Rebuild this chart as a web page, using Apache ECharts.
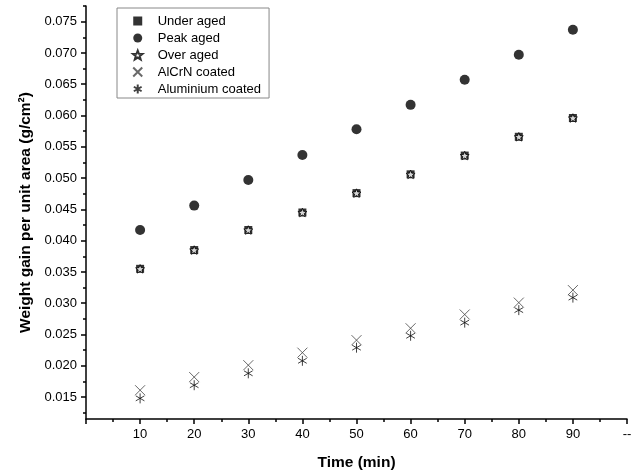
<!DOCTYPE html>
<html>
<head>
<meta charset="utf-8">
<script src="https://cdn.jsdelivr.net/npm/echarts@6/dist/echarts.min.js"></script>
<style>
  html, body { margin: 0; padding: 0; background: #fff; }
  #chart { width: 644px; height: 476px; }
</style>
</head>
<body>
<div id="chart"></div>
<script>
// exposure time (min)
const times = [10, 20, 30, 40, 50, 60, 70, 80, 90];

// weight gain per unit area (g/cm2)
const underAged       = [0.0355, 0.0385, 0.0417, 0.0445, 0.0476, 0.0506, 0.0536, 0.0566, 0.0596];
const peakAged        = [0.0417, 0.0456, 0.0497, 0.0537, 0.0578, 0.0617, 0.0657, 0.0697, 0.0737];
const overAged        = [0.0355, 0.0385, 0.0417, 0.0445, 0.0476, 0.0506, 0.0536, 0.0566, 0.0596];
const alcrnCoated     = [0.0161, 0.0182, 0.0201, 0.0221, 0.0241, 0.0260, 0.0282, 0.0301, 0.0321];
const aluminiumCoated = [0.0148, 0.0169, 0.0188, 0.0208, 0.0229, 0.0248, 0.0269, 0.0289, 0.0309];

// tick labels
const yMajorTicks = [0.015, 0.020, 0.025, 0.030, 0.035, 0.040, 0.045, 0.050, 0.055, 0.060, 0.065, 0.070, 0.075];
const yMinorTicks = [0.0125, 0.0175, 0.0225, 0.0275, 0.0325, 0.0375, 0.0425, 0.0475, 0.0525, 0.0575, 0.0625, 0.0675, 0.0725, 0.0775];
const xEndLabel = '--';

const FONT = "'Liberation Sans', Arial, sans-serif";
const Y_MIN = 0.0115, Y_MAX = 0.0775;

const SQUARE = 'path://M0,0 L10,0 L10,10 L0,10 Z';
const STAR = 'path://M10,0 L12.47,6.6 L19.51,6.91 L13.99,11.3 L15.88,18.09 L10,14.2 L4.12,18.09 L6.01,11.3 L0.49,6.91 L7.53,6.6 Z';
const CROSS = 'path://M0,0 L10,10 M0,10 L10,0';
const ASTERISK = 'path://M5,0 L5,10 M0.67,2.5 L9.33,7.5 M0.67,7.5 L9.33,2.5';

const pairs = arr => times.map((t, i) => [t, arr[i]]);

const axisLine = { show: true, lineStyle: { color: '#000', width: 1.5 } };
const tickStyle = { color: '#000', width: 1.5 };

const chart = echarts.init(document.getElementById('chart'));

chart.setOption({
  animation: false,
  backgroundColor: '#fff',
  textStyle: { fontFamily: FONT },
  grid: { left: 86, right: 17, top: 6, bottom: 51, containLabel: false },
  legend: {
    orient: 'vertical',
    left: 117,
    top: 8,
    padding: [6, 8, 2, 15],
    itemWidth: 30,
    itemHeight: 9,
    itemGap: 3,
    borderColor: '#888',
    borderWidth: 1,
    textStyle: { fontSize: 13, lineHeight: 14, color: '#000', fontFamily: FONT },
    data: [
      { name: 'Under aged', icon: SQUARE },
      { name: 'Peak aged' },
      { name: 'Over aged' },
      { name: 'AlCrN coated' },
      { name: 'Aluminium coated' }
    ]
  },
  xAxis: {
    type: 'value',
    min: 0,
    max: 100,
    interval: 10,
    axisLine: axisLine,
    axisTick: { length: 5, lineStyle: tickStyle },
    minorTick: { show: true, splitNumber: 2, length: 3, lineStyle: tickStyle },
    splitLine: { show: false },
    axisLabel: {
      margin: 9,
      fontSize: 13,
      color: '#000',
      fontFamily: FONT,
      showMinLabel: true,
      showMaxLabel: true,
      formatter: v => (v === 0 ? '' : v === 100 ? xEndLabel : String(v))
    },
    name: 'Time (min)',
    nameLocation: 'middle',
    nameGap: 36,
    nameTextStyle: { fontSize: 15.5, fontWeight: 'bold', color: '#000', fontFamily: FONT }
  },
  yAxis: [
    {
      type: 'value',
      min: Y_MIN,
      max: Y_MAX,
      axisLine: axisLine,
      axisTick: { customValues: yMajorTicks, length: 5, lineStyle: tickStyle },
      splitLine: { show: false },
      axisLabel: {
        customValues: yMajorTicks,
        margin: 9,
        fontSize: 13,
        color: '#000',
        fontFamily: FONT,
        formatter: v => v.toFixed(3)
      },
      name: 'Weight gain per unit area (g/cm²)',
      nameLocation: 'middle',
      nameGap: 52,
      nameTextStyle: { fontSize: 15.5, fontWeight: 'bold', color: '#000', fontFamily: FONT }
    },
    {
      type: 'value',
      min: Y_MIN,
      max: Y_MAX,
      position: 'left',
      axisLine: { show: false },
      axisTick: { customValues: yMinorTicks, length: 3, lineStyle: tickStyle },
      axisLabel: { show: false },
      splitLine: { show: false }
    }
  ],
  series: [
    {
      name: 'Under aged', type: 'scatter', symbol: 'rect', symbolSize: 8,
      itemStyle: { color: '#000' }, data: pairs(underAged)
    },
    {
      name: 'Peak aged', type: 'scatter', symbol: 'circle', symbolSize: 10,
      itemStyle: { color: '#000' }, data: pairs(peakAged)
    },
    {
      name: 'Over aged', type: 'scatter', symbol: STAR, symbolSize: 9, symbolKeepAspect: true,
      itemStyle: { color: '#fff', borderColor: '#000', borderWidth: 1 }, data: pairs(overAged)
    },
    {
      name: 'AlCrN coated', type: 'scatter', symbol: CROSS, symbolSize: 10,
      itemStyle: { color: 'rgba(0,0,0,0)', borderColor: '#444', borderWidth: 1 }, data: pairs(alcrnCoated)
    },
    {
      name: 'Aluminium coated', type: 'scatter', symbol: ASTERISK, symbolSize: 10, symbolKeepAspect: true,
      itemStyle: { color: 'rgba(0,0,0,0)', borderColor: '#111', borderWidth: 1 }, data: pairs(aluminiumCoated)
    }
  ]
});
</script>
</body>
</html>
